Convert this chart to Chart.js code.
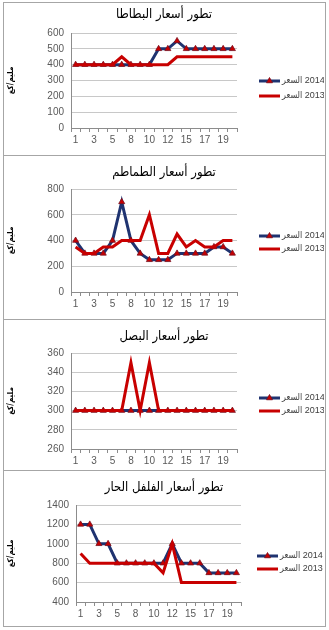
<!DOCTYPE html>
<html><head><meta charset="utf-8">
<script src="https://cdn.jsdelivr.net/npm/chart.js@4.4.0/dist/chart.umd.min.js"></script>
<style>
body{margin:0;background:#fff;width:329px;height:630px;position:relative;overflow:hidden;}
.panel{position:absolute;border:1px solid #a6a6a6;box-sizing:border-box;background:#fff}
canvas{position:absolute;}
</style></head><body>
<div class="panel" style="left:3px;top:2px;width:323px;height:154px"></div>
<div class="panel" style="left:3px;top:155px;width:323px;height:165px"></div>
<div class="panel" style="left:3px;top:319px;width:323px;height:152px"></div>
<div class="panel" style="left:3px;top:470px;width:323px;height:157px"></div>
<canvas id="c1" style="left:4px;top:3px"></canvas>
<canvas id="c2" style="left:4px;top:156px"></canvas>
<canvas id="c3" style="left:4px;top:320px"></canvas>
<canvas id="c4" style="left:4px;top:471px"></canvas>
<script>
// ---- data ----
const categories = ['1','2','3','4','5','6','8','9','10','11','12','13','15','16','17','18','19','20'];
const seriesLabels = ['السعر\u200E 2014', 'السعر\u200E 2013'];
const yAxisTitle = 'مليم/كغ';

const titlePotato = 'تطور أسعار البطاطا';
const potato2014 = [400,400,400,400,400,400,400,400,400,500,500,550,500,500,500,500,500,500];
const potato2013 = [400,400,400,400,400,450,400,400,400,400,400,450,450,450,450,450,450,450];
const potatoTicks = [0,600,100];

const titleTomato = 'تطور أسعار الطماطم';
const tomato2014 = [400,300,300,300,400,700,400,300,250,250,250,300,300,300,300,350,350,300];
const tomato2013 = [350,300,300,350,350,400,400,400,600,300,300,450,350,400,350,350,400,400];
const tomatoTicks = [0,800,100];

const titleOnion = 'تطور أسعار البصل';
const onion2014 = [300,300,300,300,300,300,300,300,300,300,300,300,300,300,300,300,300,300];
const onion2013 = [300,300,300,300,300,300,350,300,350,300,300,300,300,300,300,300,300,300];
const onionTicks = [260,360,20];

const titlePepper = 'تطور أسعار الفلفل الحار';
const pepper2014 = [1200,1200,1000,1000,800,800,800,800,800,800,1000,800,800,800,700,700,700,700];
const pepper2013 = [900,800,800,800,800,800,800,800,800,700,1000,600,600,600,600,600,600,600];
const pepperTicks = [400,1400,200];

// ---- styling / layout ----
const NAVY = '#1f3370', RED = '#c80000';
const AR = '"DejaVu Sans Condensed", "DejaVu Sans", sans-serif';
const LAT = '"Liberation Sans", "DejaVu Sans Condensed", sans-serif';

const sideLegend = {
  id: 'sideLegend',
  afterDraw(chart, args, opts) {
    const ctx = chart.ctx;
    chart.data.datasets.forEach((ds, i) => {
      const y = opts.ys[i];
      ctx.save();
      ctx.strokeStyle = ds.borderColor; ctx.lineWidth = ds.borderWidth;
      ctx.beginPath(); ctx.moveTo(opts.x, y); ctx.lineTo(opts.x + opts.len, y); ctx.stroke();
      if (ds.pointRadius > 0) {
        ctx.fillStyle = ds.pointBackgroundColor; ctx.strokeStyle = ds.pointBorderColor; ctx.lineWidth = ds.pointBorderWidth;
        Chart.helpers.drawPoint(ctx, {pointStyle: 'triangle', radius: ds.pointRadius, borderWidth: ds.pointBorderWidth, rotation: 0}, opts.x + opts.len / 2, y);
      }
      ctx.direction = 'ltr';
      ctx.fillStyle = '#404040'; ctx.font = '9px ' + LAT; ctx.textBaseline = 'middle'; ctx.textAlign = 'left';
      ctx.fillText(ds.label, opts.x + opts.len + 2, y);
      ctx.restore();
    });
  }
};

function makeChart(id, W, H, title, d14, d13, ticks, L) {
  const cv = document.getElementById(id);
  cv.width = W; cv.height = H; cv.style.width = W + 'px'; cv.style.height = H + 'px';
  return new Chart(cv, {
    type: 'line',
    data: {
      labels: categories,
      datasets: [
        {label: seriesLabels[0], data: d14, borderColor: NAVY, borderWidth: 3, tension: 0, order: 1,
         pointStyle: 'triangle', pointRadius: 3.5, pointBackgroundColor: RED, pointBorderColor: '#7a1020', pointBorderWidth: 0.8},
        {label: seriesLabels[1], data: d13, borderColor: RED, borderWidth: 3, tension: 0, order: 0, pointRadius: 0}
      ]
    },
    options: {
      responsive: false, animation: false, devicePixelRatio: 1,
      layout: {padding: 0},
      plugins: {
        legend: {display: false}, tooltip: {enabled: false},
        title: {display: true, text: title, color: '#000', font: {family: AR, size: 13, weight: 'normal', lineHeight: 1.2},
                padding: {top: L.tc - 7.8, bottom: L.top - L.tc - 7.8}},
        sideLegend: {x: L.lx, len: 21, ys: L.ly}
      },
      scales: {
        x: {
          offset: true,
          grid: {display: true, drawOnChartArea: false, drawTicks: true, tickLength: 4, offset: true, color: '#8c8c8c'},
          border: {display: true, color: '#8c8c8c', width: 1},
          ticks: {autoSkip: false, maxRotation: 0, minRotation: 0, padding: 2, color: '#595959', font: {family: LAT, size: 10},
                  callback: (v, i) => (i % 2 === 0 ? categories[i] : '')},
          afterFit: s => { s.height = H - L.bottom; }
        },
        y: {
          min: ticks[0], max: ticks[1],
          grid: {color: '#c8c8c8', drawTicks: false},
          border: {display: true, color: '#8c8c8c', width: 1},
          ticks: {stepSize: ticks[2], padding: 7, color: '#595959', font: {family: LAT, size: 10},
                  callback: v => String(v)},
          title: {display: true, text: yAxisTitle, color: '#000', font: {family: AR, size: 8, weight: 'bold'}, padding: {top: 2, bottom: 0}},
          afterFit: s => { s.width = L.left; }
        },
        yR: {
          position: 'right', display: true,
          grid: {display: false}, border: {display: false}, ticks: {display: false},
          afterFit: s => { s.width = W - L.right; }
        }
      }
    },
    plugins: [sideLegend]
  });
}

makeChart('c1', 320, 152, titlePotato, potato2014, potato2013, potatoTicks,
  {left: 67, right: 233, top: 30, bottom: 125, tc: 12, lx: 255, ly: [78, 93]});
makeChart('c2', 320, 163, titleTomato, tomato2014, tomato2013, tomatoTicks,
  {left: 67, right: 233, top: 33, bottom: 136, tc: 17, lx: 255, ly: [80, 93]});
makeChart('c3', 320, 150, titleOnion, onion2014, onion2013, onionTicks,
  {left: 67, right: 233, top: 33, bottom: 129, tc: 17, lx: 255, ly: [78, 91]});
makeChart('c4', 320, 155, titlePepper, pepper2014, pepper2013, pepperTicks,
  {left: 72, right: 237, top: 34, bottom: 131, tc: 17, lx: 253, ly: [85, 98]});
</script>
</body></html>
